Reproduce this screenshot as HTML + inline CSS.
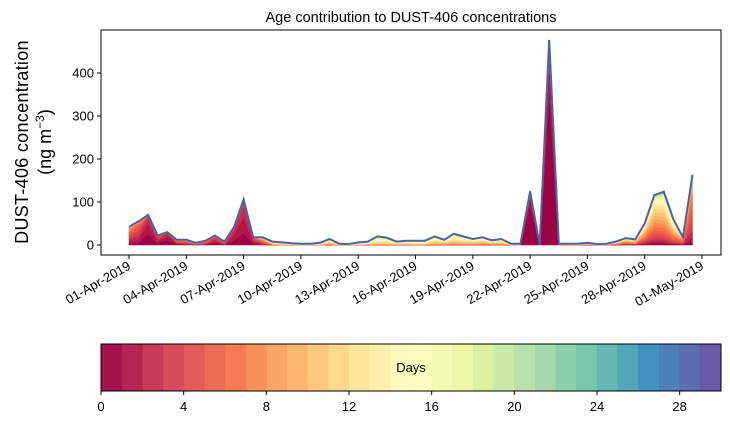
<!DOCTYPE html>
<html><head><meta charset="utf-8"><style>
body{margin:0;background:#fff;width:730px;height:425px;overflow:hidden}
svg{font-family:"Liberation Sans","DejaVu Sans",sans-serif}
</style></head><body>
<svg id="c" width="730" height="425" xmlns="http://www.w3.org/2000/svg"></svg>
<script>
// data: 12-hourly totals starting 01-Apr-2019 00:00
const totals=[42,55,70,22,30,12,12,5,10,22,8,42,106,18,18,8,6,4,3,3,5,14,3,2,6,8,20,17,8,10,10,10,20,12,26,20,14,18,11,14,3,3,125,0,477,3,3,3,5,2,3,8,16,13,50,116,124,60,18,163];
const meanAge=[4,3,1,2,1,3,4,6,4,2,5,1.5,1.5,2,6,12,14,14,15,15,14,12,14,14,14,14,14,14,13,13,14,14,13,12,13,13,12,12,12,12,14,14,0.5,1,0.5,10,12,12,10,12,12,10,8,9,8,8,9,9,6,5];
const spread=[3,2.5,1.2,2,1.2,3,3,4,3,2,3,1.2,1.2,2,4,4,5,5,5,5,5,4,5,5,5,5,4,4,4,4,4,4,4,4,4,4,4,4,4,4,4,4,0.6,1,0.6,5,5,5,5,5,5,5,5,5,6,6,6,6,4,3];
const yTicks=[0,100,200,300,400];
const xTickLabels=["01-Apr-2019","04-Apr-2019","07-Apr-2019","10-Apr-2019","13-Apr-2019","16-Apr-2019","19-Apr-2019","22-Apr-2019","25-Apr-2019","28-Apr-2019","01-May-2019"];
const cbTicks=[0,4,8,12,16,20,24,28];
const nLayers=30;

const NS="http://www.w3.org/2000/svg",svg=document.getElementById('c');
function el(t,a,p){const e=document.createElementNS(NS,t);for(const k in a)e.setAttribute(k,a[k]);(p||svg).appendChild(e);return e;}
const L=101,R=721,T=30,B=255;
const xs=d=>129+d*19.1;
const ys=v=>245-v*0.43;
const spec=["#9e0142","#d53e4f","#f46d43","#fdae61","#fee08b","#ffffbf","#e6f598","#abdda4","#66c2a5","#3288bd","#5e4fa2"];
function hx(h){return [1,3,5].map(i=>parseInt(h.substr(i,2),16));}
function cmap(t){const p=t*10,i=Math.min(9,Math.floor(p)),f=p-i,a=hx(spec[i]),b=hx(spec[i+1]);return 'rgb('+a.map((v,j)=>Math.round(v+(b[j]-v)*f)).join(',')+')';}
const col=k=>cmap(k/(nLayers-1));

el('text',{x:411,y:22,'text-anchor':'middle','font-size':'14.5'}).textContent='Age contribution to DUST-406 concentrations';
const layers=totals.map((tot,i)=>{let w=[],s=0;for(let k=0;k<nLayers;k++){const z=(k+0.5-meanAge[i])/spread[i];const v=Math.exp(-z*z/2)+0.004;w.push(v);s+=v;}return w.map(v=>tot*v/s);});
const g=el('g',{});


let base=totals.map(()=>0);
for(let k=0;k<nLayers;k++){
  const top=base.map((b,i)=>b+layers[i][k]);
  let d='';top.forEach((v,i)=>d+=(i?'L':'M')+xs(i/2).toFixed(1)+','+ys(v).toFixed(1));
  for(let i=top.length-1;i>=0;i--)d+='L'+xs(i/2).toFixed(1)+','+ys(base[i]).toFixed(1);
  const p=el('path',{d:d+'Z',fill:col(k),stroke:col(k),'stroke-width':0.5},g);
  
  
  base=top;
}
let dl='';totals.forEach((v,i)=>dl+=(i?'L':'M')+xs(i/2).toFixed(1)+','+ys(v).toFixed(1));
const tl=el('path',{d:dl,fill:'none',stroke:'#4a62ab','stroke-width':2});


const fr=el('rect',{x:L,y:T,width:R-L,height:B-T,fill:'none',stroke:'#000','stroke-width':1});


yTicks.forEach(v=>{const y=ys(v);el('line',{x1:L-4,x2:L,y1:y,y2:y,stroke:'#000'});
 const t=el('text',{x:L-7,y:y+4.5,'text-anchor':'end','font-size':'13'});t.textContent=v;
 });
xTickLabels.forEach((lab,i)=>{const x=xs(i*3);el('line',{x1:x,x2:x,y1:B,y2:B+4,stroke:'#000'});
 const t=el('text',{x:x,y:B+14,'text-anchor':'end','font-size':'13',transform:'rotate(-30 '+x+' '+(B+9)+')'});t.textContent=lab;
 });
const yl=el('text',{x:0,y:0,'text-anchor':'middle','font-size':'18','letter-spacing':'0.3',transform:'translate(28,142) rotate(-90)'});
yl.textContent='DUST-406 concentration';

const yl2=el('text',{x:0,y:0,'text-anchor':'middle','font-size':'18',transform:'translate(51,142) rotate(-90)'});
yl2.innerHTML='(ng m<tspan dy="-7" font-size="12">−3</tspan><tspan dy="7">)</tspan>';

const cb=el('g',{});


const cw=(R-L)/nLayers;
for(let k=0;k<nLayers;k++){el('rect',{x:L+k*cw,y:344,width:cw+0.5,height:47,fill:col(k),'fill-opacity':0.93},cb);}
el('rect',{x:L,y:344,width:R-L,height:47,fill:'none',stroke:'#000'},cb);
const dt=el('text',{x:411,y:372,'text-anchor':'middle','font-size':'13'},cb);dt.textContent='Days';
cbTicks.forEach(v=>{const x=L+v*cw;el('line',{x1:x,x2:x,y1:391,y2:395,stroke:'#000'},cb);
 const t=el('text',{x:x,y:411,'text-anchor':'middle','font-size':'13'},cb);t.textContent=v;
 });
</script>
</body></html>
